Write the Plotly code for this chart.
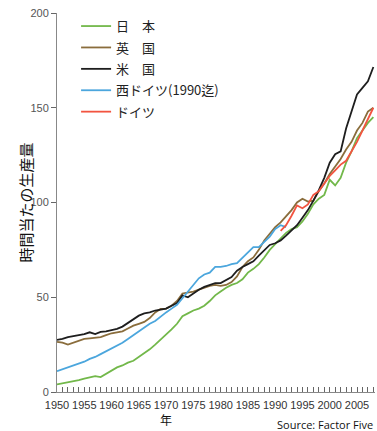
import plotly.graph_objects as go

years = list(range(1950, 2009))

japan = [4, 4.5, 5, 5.8, 6.3, 7, 7.8, 8.4, 7.9, 9.5,
         11.5, 13, 14, 15.5, 16.5, 18.5, 20.5, 22.5, 25, 27.5,
         30, 33, 36, 40, 41.5, 43, 44, 45.5, 48, 51,
         53, 55, 56.5, 57.5, 59.5, 63, 65, 67.5, 71, 75,
         78, 81, 84, 86, 87, 90, 94, 99, 102, 104,
         112, 109, 113, 121, 127, 134, 138, 142, 145]

uk = [26.5, 26, 25, 26, 27, 28, 28.3, 28.5, 29, 30,
      31, 31.5, 32, 33.5, 35, 36, 37, 39, 42, 43.8,
      44, 45.5, 48, 52, 52.5, 53, 54, 55, 56, 56.5,
      56, 56.5, 58, 61, 66, 69, 71, 75, 80, 83.5,
      87, 89.5, 92.5, 96, 100, 102, 100.5, 101, 106, 110,
      115, 119, 123, 128, 132, 138, 142, 148, 150]

us = [27.5, 28, 29, 29.5, 30, 30.5, 31.5, 30.6, 31.7, 32,
      32.7, 33.3, 34.5, 36.5, 38.5, 40.3, 41.5, 42, 43, 43.5,
      44, 45.5, 47, 51, 50, 52, 54, 55.5, 56.5, 57.5,
      57.5, 59, 60.7, 64, 66, 67.5, 69, 72, 75, 77.6,
      78.5, 80, 82.5, 85, 88, 92, 96, 101, 106.5, 113,
      121, 125.5, 127, 139, 148, 157, 160.5, 164, 171.5]

wgermany_years = list(range(1950, 1993))
wgermany = [11, 12, 13.2, 14, 15, 16, 17.5, 18.5, 20, 21.5,
            23, 24.5, 26, 28, 30, 32, 34, 36, 37.5, 40,
            42, 44, 46, 49.5, 53, 56.5, 60, 62, 63, 66,
            66, 66.5, 67.5, 68, 71, 74, 76.5, 76.5, 79, 82,
            86, 88, 87]

germany_years = list(range(1991, 2009))
germany = [85, 88, 93, 98.5, 97, 99, 104, 106, 110, 114,
           117, 120, 122, 127, 132, 138, 144, 150]

names = ["日　本", "英　国", "米　国", "西ドイツ(1990迄)", "ドイツ"]
colors = ["#72b84a", "#8a6d3c", "#1e1e1e", "#4ba6dd", "#f25440"]

fig = go.Figure()
series = [(years, japan), (years, uk), (years, us),
          (wgermany_years, wgermany), (germany_years, germany)]
for i, ((xs, ys), n, c) in enumerate(zip(series, names, colors)):
    fig.add_trace(go.Scatter(x=xs, y=ys, name=n, mode="lines", legendgroup=f"g{i}",
                             line=dict(color=c, width=1.8)))

fig.update_layout(
    width=377, height=431,
    margin=dict(l=57, r=2, t=13, b=39),
    paper_bgcolor="white", plot_bgcolor="white",
    font=dict(family="Liberation Sans, Arial, sans-serif", color="#333", size=11),
    showlegend=True,
    legend=dict(x=0.06, y=1.005, xanchor="left", yanchor="top",
                bgcolor="rgba(0,0,0,0)", itemwidth=30,
                font=dict(family="Noto Sans CJK JP", size=13, color="#222"),
                tracegroupgap=1.5),
    annotations=[
        dict(text="時間当たの生産量", x=0, y=0.5, xref="paper", yref="paper",
             xshift=-32, xanchor="center", yanchor="middle", textangle=-90, showarrow=False,
             font=dict(family="Noto Sans CJK JP", size=15, color="#111")),
        dict(text="年", x=1970, y=0, xref="x", yref="paper", yshift=-27,
             yanchor="middle", showarrow=False,
             font=dict(family="Noto Sans CJK JP", size=12, color="#111")),
        dict(text="Source: Factor Five", x=1, y=0, xref="paper", yref="paper",
             xanchor="right", yanchor="middle", xshift=0, yshift=-32, showarrow=False,
             font=dict(family="Open Sans, sans-serif", size=11, color="#111")),
    ],
)
fig.update_xaxes(range=[1950, 2008.3], showline=True, linecolor="#888", linewidth=1,
                 tickmode="linear", tick0=1950, dtick=5, ticks="inside", ticklen=5,
                 tickcolor="#666", showgrid=False, zeroline=False, ticklabelstandoff=3,
                 minor=dict(dtick=1, ticks="inside", ticklen=5, tickcolor="#666", showgrid=False),
                 tickfont=dict(size=11, color="#333"))
fig.update_yaxes(range=[0, 200], showline=True, linecolor="#888", linewidth=1,
                 tickvals=[0, 50, 100, 150, 200], ticks="outside", ticklen=5,
                 tickcolor="#666", showgrid=False, zeroline=False,
                 tickfont=dict(size=11, color="#555"))

fig.write_html("out.html", config={"displayModeBar": False},
               post_script="document.body.style.margin='0';")
